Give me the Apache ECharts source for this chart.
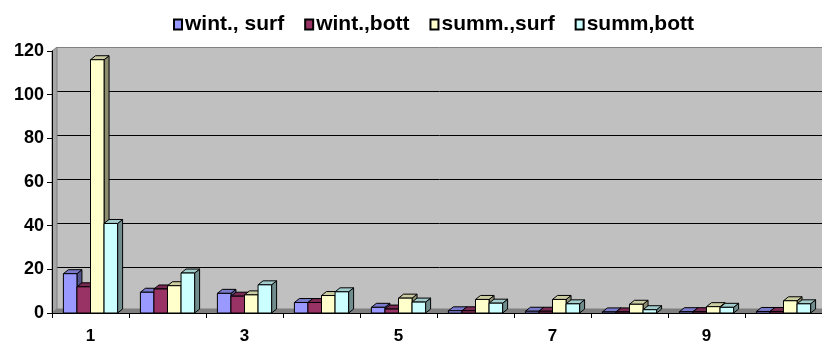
<!DOCTYPE html>
<html>
<head>
<meta charset="utf-8">
<script src="https://cdn.jsdelivr.net/npm/echarts@6/dist/echarts.min.js"></script>
<style>
  html, body { margin: 0; padding: 0; background: #fff; }
  #chart { width: 822px; height: 345px; }
</style>
</head>
<body>
<div id="chart"></div>
<script>
// Station numbers along the x axis
var categories = ['1', '2', '3', '4', '5', '6', '7', '8', '9', '10'];

// Concentrations per station, season and depth
var wintSurf = [18, 9.5, 9, 4.8, 2.6, 1, 0.8, 0.5, 0.6, 0.7];
var wintBott = [12, 11, 7.7, 4.8, 1.8, 1, 0.8, 0.5, 0.6, 0.7];
var summSurf = [116, 12.5, 8.3, 8, 6.8, 6.2, 6.2, 4, 2.9, 5.6];
var summBott = [41, 18.3, 12.9, 9.7, 5, 4.5, 4.2, 1.5, 2.6, 4.2];

var seriesNames = ['wint., surf', 'wint.,bott', 'summ.,surf', 'summ,bott'];
var seriesColors = ['#9999FF', '#993366', '#FFFFCC', '#CCFFFF'];
var seriesData = [wintSurf, wintBott, summSurf, summBott];

var yTicks = { min: 0, max: 120, interval: 20 };

// Depth of the pseudo-3D scene in pixels
var DX = 5, DY = 4;
var FONT = 'Liberation Sans, Arial, sans-serif';

function shade(hex, k) {
  var n = parseInt(hex.slice(1), 16);
  var r = Math.round(((n >> 16) & 255) * k);
  var g = Math.round(((n >> 8) & 255) * k);
  var b = Math.round((n & 255) * k);
  return 'rgb(' + r + ',' + g + ',' + b + ')';
}

function barRenderer(seriesIndex) {
  var color = seriesColors[seriesIndex];
  return function (params, api) {
    var idx = api.value(0);
    var val = api.value(1);
    var base = api.coord([idx, 0]);
    var top = api.coord([idx, val]);
    var band = api.size([1, 0])[0];
    var w = band * 0.176;
    var x0 = base[0] - 2 * w + seriesIndex * w;
    var x1 = x0 + w;
    var y0 = base[1];
    var y1 = top[1];
    var stroke = { stroke: '#000', lineWidth: 1 };
    return {
      type: 'group',
      children: [
        {
          type: 'polygon',
          shape: { points: [[x1, y1], [x1 + DX, y1 - DY], [x1 + DX, y0 - DY], [x1, y0]] },
          style: Object.assign({ fill: shade(color, 0.55) }, stroke)
        },
        {
          type: 'polygon',
          shape: { points: [[x0, y1], [x0 + DX, y1 - DY], [x1 + DX, y1 - DY], [x1, y1]] },
          style: Object.assign({ fill: shade(color, 0.8) }, stroke)
        },
        {
          type: 'rect',
          shape: { x: x0, y: y1, width: w, height: y0 - y1 },
          style: Object.assign({ fill: color }, stroke)
        }
      ]
    };
  };
}

// Floor and left side wall of the plot box
function wallRenderer(params, api) {
  var band = api.size([1, 0])[0];
  var left = api.coord([0, yTicks.min])[0] - band / 2;
  var right = api.coord([categories.length - 1, yTicks.min])[0] + band / 2;
  var bottom = api.coord([0, yTicks.min])[1];
  var topY = api.coord([0, yTicks.max])[1];
  return {
    type: 'group',
    children: [
      {
        type: 'polygon',
        shape: { points: [[left, topY], [left + DX, topY - DY], [left + DX, bottom - DY], [left, bottom]] },
        style: { fill: '#A6A6A6', stroke: '#808080', lineWidth: 1 }
      },
      {
        type: 'polygon',
        shape: { points: [[left, bottom], [left + DX, bottom - DY], [right + DX, bottom - DY], [right, bottom]] },
        style: { fill: '#808080', stroke: '#808080', lineWidth: 1 }
      }
    ]
  };
}

var series = [{
  type: 'custom',
  name: 'walls',
  xAxisIndex: 0,
  yAxisIndex: 0,
  renderItem: wallRenderer,
  data: [[0, 0]],
  silent: true,
  z: 1,
  clip: false
}];

seriesData.forEach(function (vals, i) {
  series.push({
    type: 'custom',
    name: seriesNames[i],
    xAxisIndex: 0,
    yAxisIndex: 0,
    renderItem: barRenderer(i),
    itemStyle: { color: seriesColors[i], borderColor: '#000', borderWidth: 1 },
    encode: { x: 0, y: 1 },
    data: vals.map(function (v, k) { return [k, v]; }),
    z: 2 + i,
    clip: false
  });
});

var chart = echarts.init(document.getElementById('chart'), null, { renderer: 'canvas' });
chart.setOption({
  animation: false,
  backgroundColor: '#fff',
  legend: {
    data: seriesNames,
    top: 9,
    left: 168,
    icon: 'rect',
    itemWidth: 8,
    itemHeight: 10,
    itemGap: 20,
    textStyle: { fontFamily: FONT, fontWeight: 'bold', fontSize: 21, color: '#000', padding: [0, 0, 0, -2] }
  },
  grid: [
    { left: 52, top: 51, width: 771, height: 264, containLabel: false },
    { left: 52 + DX, top: 51 - DY, width: 771, height: 264, show: true, backgroundColor: '#C0C0C0', borderWidth: 0, z: 0 }
  ],
  xAxis: [
    {
      type: 'category',
      gridIndex: 0,
      data: categories,
      boundaryGap: true,
      axisLine: { show: true, lineStyle: { color: '#000', width: 1 } },
      axisTick: { show: true, length: 5, interval: 0, lineStyle: { color: '#000' } },
      axisLabel: { interval: 1, margin: 15, fontFamily: FONT, fontWeight: 'bold', fontSize: 17, color: '#000' },
      z: 10
    },
    { type: 'category', gridIndex: 1, data: categories, show: false }
  ],
  yAxis: [
    {
      type: 'value',
      gridIndex: 0,
      min: yTicks.min,
      max: yTicks.max,
      interval: yTicks.interval,
      axisLine: { show: true, lineStyle: { color: '#000', width: 1 } },
      axisTick: { show: true, length: 5, lineStyle: { color: '#000' } },
      axisLabel: { margin: 8, fontFamily: FONT, fontWeight: 'bold', fontSize: 18, color: '#000' },
      splitLine: { show: false },
      z: 10
    },
    {
      type: 'value',
      gridIndex: 1,
      min: yTicks.min,
      max: yTicks.max,
      interval: yTicks.interval,
      axisLine: { show: false },
      axisTick: { show: false },
      axisLabel: { show: false },
      splitLine: {
        show: true,
        lineStyle: { color: ['#808080', '#000', '#000', '#000', '#000', '#000', '#808080'], width: 1 }
      }
    }
  ],
  series: series
});
</script>
</body>
</html>
